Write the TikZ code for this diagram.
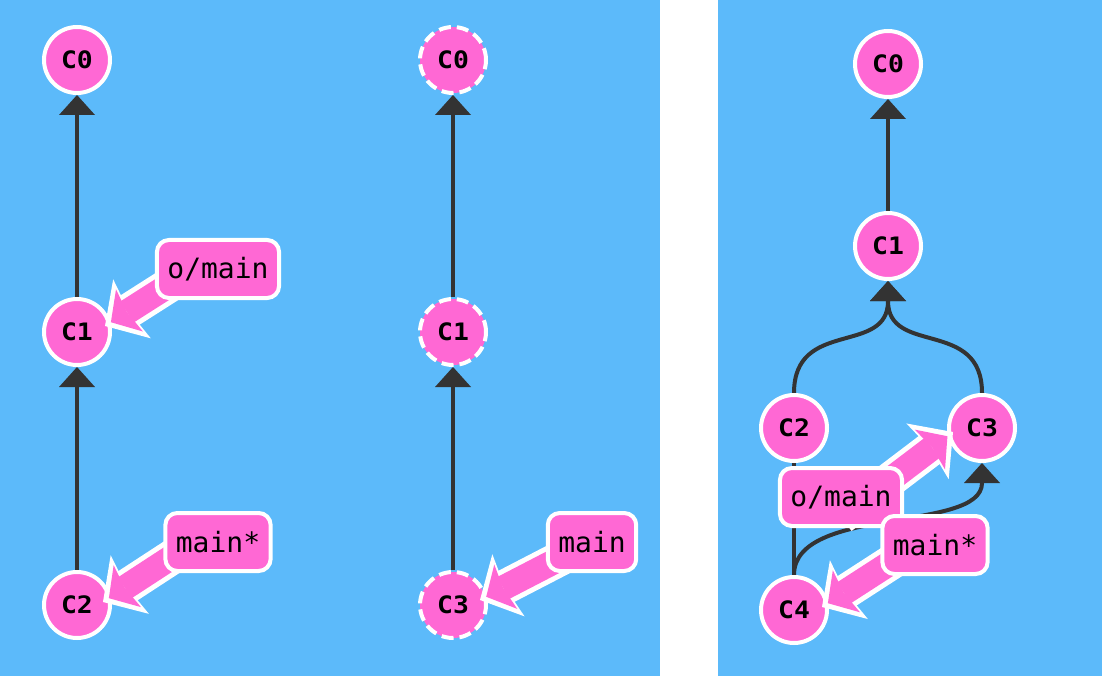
\documentclass[tikz,border=0pt]{standalone}
\usepackage{fontspec}
\setmonofont{DejaVu Sans Mono}
\newfontfamily\commitfont{DejaVu Sans Mono}[FakeStretch=1.1]
\usetikzlibrary{arrows.meta}
\definecolor{bgblue}{HTML}{5CBAFA}
\definecolor{cpink}{HTML}{FF68D4}
\definecolor{edark}{HTML}{333333}
\pgfdeclarelayer{bg}
\pgfdeclarelayer{edges}
\pgfdeclarelayer{refs}
\pgfdeclarelayer{top}
\pgfsetlayers{bg,edges,main,refs,top}
\begin{document}
\begin{tikzpicture}[x=1pt,y=-1pt,
  commit/.style={circle, fill=cpink, draw=white, line width=4pt, minimum size=66pt, inner sep=0pt,
    font=\commitfont\bfseries\fontsize{24}{24}\selectfont},
  ghost/.style={commit, dash pattern=on 12pt off 6pt},
  reflabel/.style={rectangle, rounded corners=12pt, fill=cpink, draw=white, line width=4pt,
    inner xsep=10.5pt, inner ysep=0pt, minimum height=58pt, font=\ttfamily\fontsize{28}{28}\selectfont},
  parent/.style={draw=edark, line width=4pt, -{Triangle[width=36pt,length=20pt,line width=0pt]}},
  plainedge/.style={draw=edark, line width=4pt},
  refout/.style={draw=white, line width=35pt, -{Stealth[width=70pt,length=32pt,inset=4pt,line width=0pt]}},
  refin/.style={draw=cpink, line width=25pt, shorten >=7pt, -{Stealth[width=50pt,length=22pt,inset=3pt,line width=0pt]}},
]
\useasboundingbox (0,0) rectangle (1102,676);
\begin{pgfonlayer}{bg}
  \fill[white] (0,0) rectangle (1102,676);
  \fill[bgblue] (0,0) rectangle (660,676);
  \fill[bgblue] (718,0) rectangle (1102,676);
\end{pgfonlayer}

% left column
\node[commit] (a0) at (77,60) {C0};
\node[commit] (a1) at (77,332) {C1};
\node[commit] (a2) at (77,605) {C2};
% middle column
\node[ghost] (b0) at (453,60) {C0};
\node[ghost] (b1) at (453,332) {C1};
\node[ghost] (b3) at (453,605) {C3};
% right panel
\node[commit] (c0) at (888,64) {C0};
\node[commit] (c1) at (888,246) {C1};
\node[commit] (c2) at (794,428) {C2};
\node[commit] (c3) at (982,428) {C3};
\node[commit] (c4) at (794,610) {C4};

\begin{pgfonlayer}{top}
  \node[reflabel] (la) at (218,269) {o/main};
  \node[reflabel] (lb) at (218,542) {main*};
  \node[reflabel] (lc) at (592,542) {main};
  \node[reflabel] (ld) at (841,497) {o/main};
  \node[reflabel] (le) at (935,545) {main*};
\end{pgfonlayer}

\begin{pgfonlayer}{edges}
  \draw[parent] (a1) -- (a0);
  \draw[parent] (a2) -- (a1);
  \draw[parent] (b1) -- (b0);
  \draw[parent] (b3) -- (b1);
  \draw[parent] (c1) -- (c0);
  \draw[parent] (c2.north) .. controls +(0,-75) and +(0,75) .. (c1.south);
  \draw[parent] (c3.north) .. controls +(0,-75) and +(0,75) .. (c1.south);
  \draw[plainedge] (c4) -- (c2);
  \draw[parent] (c4.north) .. controls +(0,-70) and +(0,70) .. (c3.south);
\end{pgfonlayer}

\begin{pgfonlayer}{refs}
  \foreach \s/\sy/\t/\dx/\dy in {la/15/a1/28/-6, lb/15/a2/26/-3, lc/0/b3/27/-5, ld/-20/c3/-29/4, le/11/c4/28/-3}{
    \draw[refout] ([yshift=\sy pt]\s.center) -- ([shift={(\dx,\dy)}]\t.center);
    \draw[refin] ([yshift=\sy pt]\s.center) -- ([shift={(\dx,\dy)}]\t.center);
  }
\end{pgfonlayer}
\end{tikzpicture}
\end{document}
